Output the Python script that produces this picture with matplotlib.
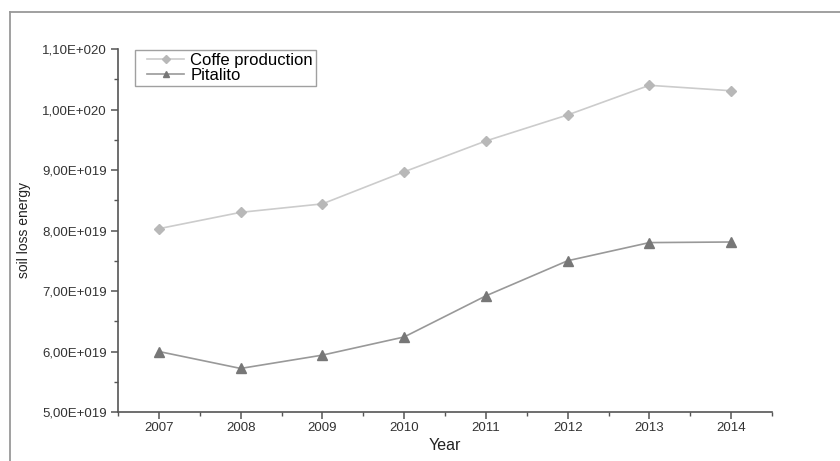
"""Soil loss energy per year: coffee production area vs Pitalito."""

import matplotlib

matplotlib.use("Agg")
import matplotlib.pyplot as plt
from matplotlib.legend_handler import HandlerLine2D
from matplotlib.lines import Line2D
from matplotlib.ticker import FuncFormatter, MultipleLocator
import math

plt.rcParams["font.family"] = ["Liberation Sans", "DejaVu Sans"]

years = [2007, 2008, 2009, 2010, 2011, 2012, 2013, 2014]
coffee = [8.03e19, 8.30e19, 8.44e19, 8.97e19, 9.48e19, 9.91e19, 1.040e20, 1.031e20]
pitalito = [6.00e19, 5.72e19, 5.94e19, 6.24e19, 6.92e19, 7.50e19, 7.80e19, 7.81e19]


def sci_comma(v, _pos):
    if v <= 0:
        return "0"
    exp = int(math.floor(math.log10(v) + 1e-9))
    mant = v / 10 ** exp
    return f"{mant:.2f}".replace(".", ",") + f"E+{exp:03d}"


fig = plt.figure(figsize=(8.4, 4.61), dpi=100)
ax = fig.add_axes([118 / 840, 1 - 412 / 461, 654 / 840, 363 / 461])

ax.plot(years, coffee, color="#cccccc", lw=1.2, marker="D", ms=5.5,
        mfc="#b8b8b8", mec="#b8b8b8", label="Coffe production")
ax.plot(years, pitalito, color="#999999", lw=1.2, marker="^", ms=6.5,
        mfc="#777777", mec="#777777", label="Pitalito")

ax.set_xlim(2006.5, 2014.5)
ax.set_ylim(5e19, 1.1e20)
ax.xaxis.set_major_locator(MultipleLocator(1))
ax.xaxis.set_minor_locator(MultipleLocator(0.5))
ax.yaxis.set_major_locator(MultipleLocator(1e19))
ax.yaxis.set_minor_locator(MultipleLocator(5e18))
ax.yaxis.set_major_formatter(FuncFormatter(sci_comma))
ax.xaxis.set_major_formatter(FuncFormatter(lambda v, p: f"{int(round(v))}"))

for s in ("top", "right"):
    ax.spines[s].set_visible(False)
for s in ("left", "bottom"):
    ax.spines[s].set_color("#555555")
    ax.spines[s].set_linewidth(1.2)

ax.tick_params(which="major", direction="out", length=5, width=1.1,
               color="#555555", labelsize=9.5, labelcolor="#333333", pad=3)
ax.tick_params(axis="x", which="major", pad=2)
ax.tick_params(which="minor", direction="out", length=3, width=1.0, color="#555555")

ax.set_xlabel("Year", fontsize=11.5, color="#222222", labelpad=3)
ax.set_ylabel("soil loss energy", fontsize=10, color="#222222", labelpad=8)

leg = ax.legend(loc="upper left", bbox_to_anchor=(0.026, 0.998), fontsize=12,
                frameon=True, fancybox=False, handlelength=2.75, handletextpad=0.36,
                borderpad=0.2, labelspacing=0.0, borderaxespad=0, markerscale=0.7,
                handler_map={Line2D: HandlerLine2D(xpad=0.52)})
leg.get_frame().set_edgecolor("#888888")
leg.get_frame().set_linewidth(1.0)

# outer frame (left and top edges)
fig.add_artist(Line2D([10 / 840, 10 / 840], [0, 1 - 12 / 461],
                      transform=fig.transFigure, color="#999999", lw=1.3))
fig.add_artist(Line2D([10 / 840, 1], [1 - 12 / 461, 1 - 12 / 461],
                      transform=fig.transFigure, color="#999999", lw=1.3))

fig.savefig("out.png", dpi=100)
